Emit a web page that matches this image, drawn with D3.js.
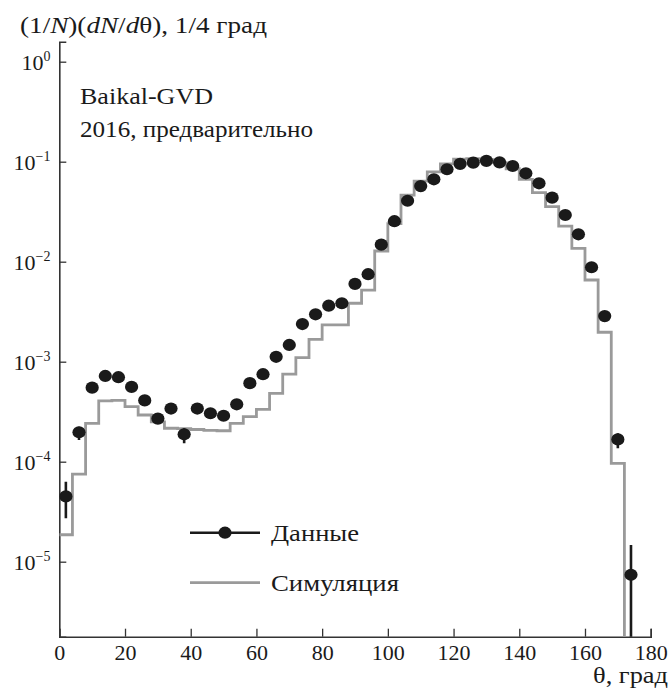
<!DOCTYPE html>
<html>
<head>
<meta charset="utf-8">
<script src="https://cdn.jsdelivr.net/npm/d3@7"></script>
<style>
  body { margin: 0; background: #fff; }
  text { font-family: "Liberation Serif", "Times New Roman", serif; fill: #1a1a1a; }
</style>
</head>
<body>
<svg id="chart" width="671" height="689"></svg>
<script>
// data points (bin centres, 4 deg bins)
var dataTheta = [2, 6, 10, 14, 18, 22, 26, 30, 34, 38, 42, 46, 50, 54, 58, 62, 66, 70, 74, 78, 82, 86,
                 90, 94, 98, 102, 106, 110, 114, 118, 122, 126, 130, 134, 138, 142, 146, 150, 154, 158,
                 162, 166, 170, 174];
var dataValue = [4.5e-5, 1.97e-4, 5.5e-4, 7.2e-4, 7.0e-4, 5.6e-4, 4.1e-4, 2.7e-4, 3.4e-4, 1.88e-4,
                 3.4e-4, 3.05e-4, 2.88e-4, 3.75e-4, 6.1e-4, 7.5e-4, 1.12e-3, 1.47e-3, 2.38e-3, 2.98e-3,
                 3.63e-3, 3.84e-3, 6.0e-3, 7.5e-3, 1.48e-2, 2.54e-2, 4.07e-2, 5.7e-2, 6.67e-2, 8.4e-2,
                 9.5e-2, 9.8e-2, 0.102, 0.0986, 0.0906, 0.0766, 0.0608, 0.0437, 0.0293, 0.0188,
                 8.8e-3, 2.86e-3, 1.67e-4, 7.4e-6];
// visible error bars only (others hidden by the markers)
var errTheta = [2, 6, 38, 170, 174];
var errHigh = [6.3e-5, 2.24e-4, 2.16e-4, 1.92e-4, 1.47e-5];
var errLow = [2.72e-5, 1.65e-4, 1.53e-4, 1.36e-4, 1e-7];

// simulation histogram, left bin edges
var simEdges = [0, 4, 8, 12, 16, 20, 24, 28, 32, 36, 40, 44, 48, 52, 56, 60, 64, 68, 72, 76, 80, 84,
                88, 92, 96, 100, 104, 108, 112, 116, 120, 124, 128, 132, 136, 140, 144, 148, 152, 156,
                160, 164, 168, 172];
var simValue = [1.86e-5, 7.5e-5, 2.42e-4, 4.05e-4, 4.1e-4, 3.55e-4, 2.93e-4, 2.5e-4, 2.16e-4, 2.14e-4,
                2.1e-4, 2.06e-4, 2.04e-4, 2.42e-4, 2.82e-4, 3.34e-4, 4.83e-4, 7.5e-4, 1.1e-3, 1.67e-3,
                2.33e-3, 2.33e-3, 3.84e-3, 5.2e-3, 1.28e-2, 2.4e-2, 4.64e-2, 6.4e-2, 7.9e-2, 9.5e-2,
                0.106, 0.107, 0.105, 0.098, 0.085, 0.0667, 0.049, 0.0355, 0.0227, 0.0136,
                6.56e-3, 1.97e-3, 9.6e-5, 1e-8];

var xTicks = [0, 20, 40, 60, 80, 100, 120, 140, 160, 180];
var yDecades = [0, -1, -2, -3, -4, -5];
var legendLabels = ["Данные", "Симуляция"];

var svg = d3.select("#chart");
var x = d3.scaleLinear().domain([0, 180]).range([59.3, 650.7]);
var y = d3.scaleLog().domain([Math.pow(10, -5.75), Math.pow(10, 0.2)]).range([636.7, 41.7]);

svg.append("defs").append("clipPath").attr("id", "plotclip")
  .append("rect").attr("x", 59.3).attr("y", 41.7).attr("width", 600).attr("height", 595);

// --- axes ---
var minorX = d3.range(0, 181, 5).filter(function(d){ return d % 20 != 0; });
var xg = svg.append("g").attr("transform", "translate(0,636.7)");
xg.call(d3.axisBottom(x).tickValues(minorX).tickSize(-5).tickFormat(""));
xg.call(d3.axisBottom(x).tickValues(xTicks).tickSize(-8).tickPadding(8).tickFormat(d3.format("d")));
xg.selectAll("text").attr("font-size", 22).attr("dy", "0.71em").style("font-family", "Liberation Serif");

var minorY = [];
for (var e = -6; e <= 0; e++) {
  for (var m = 2; m <= 9; m++) {
    var v = m * Math.pow(10, e);
    if (v > y.domain()[0] && v < y.domain()[1]) minorY.push(v);
  }
}
var yg = svg.append("g").attr("transform", "translate(59.3,0)");
yg.call(d3.axisLeft(y).tickValues(minorY).tickSize(-4).tickFormat(""));
yg.call(d3.axisLeft(y).tickValues(yDecades.map(function(d){ return Math.pow(10, d); }))
  .tickSize(-7).tickPadding(9).tickFormat(""));
svg.selectAll(".domain").attr("stroke", "#333").attr("stroke-width", 1.6);
svg.selectAll(".tick line").attr("stroke", "#333").attr("stroke-width", 1.3);

// 10^n labels with superscripts
yDecades.forEach(function(d){
  var t = svg.append("text").attr("x", 50.5).attr("y", y(Math.pow(10, d)) + 8)
    .attr("text-anchor", "end").attr("font-size", 22);
  t.append("tspan").text("10");
  t.append("tspan").attr("font-size", 14).attr("dy", -9).text(d == 0 ? "0" : "\u2212" + (-d));
});

// --- simulation histogram ---
var simPts = simEdges.map(function(d, i){ return [d, simValue[i]]; });
simPts.push([176, simValue[simValue.length - 1]]);
var stepLine = d3.line()
  .x(function(d){ return x(d[0]); })
  .y(function(d){ return y(d[1]); })
  .curve(d3.curveStepAfter);
svg.append("path").attr("clip-path", "url(#plotclip)")
  .attr("d", stepLine(simPts))
  .attr("fill", "none").attr("stroke", "#9a9a9a").attr("stroke-width", 2.8);

// --- data ---
var plot = svg.append("g").attr("clip-path", "url(#plotclip)");
plot.selectAll(".err").data(errTheta).enter().append("line")
  .attr("x1", function(d){ return x(d); }).attr("x2", function(d){ return x(d); })
  .attr("y1", function(d, i){ return y(errHigh[i]); })
  .attr("y2", function(d, i){ return y(errLow[i]); })
  .attr("stroke", "#1a1a1a").attr("stroke-width", 2.6);
plot.selectAll(".dot").data(dataTheta).enter().append("ellipse")
  .attr("cx", function(d){ return x(d); })
  .attr("cy", function(d, i){ return y(dataValue[i]); })
  .attr("rx", 6.6).attr("ry", 6.1)
  .attr("fill", "#1a1a1a");

// --- legend ---
var lg = svg.append("g");
lg.append("line").attr("x1", 190).attr("x2", 260).attr("y1", 532.7).attr("y2", 532.7)
  .attr("stroke", "#1a1a1a").attr("stroke-width", 2.6);
lg.append("ellipse").attr("cx", 225).attr("cy", 532.7).attr("rx", 6.6).attr("ry", 6.1).attr("fill", "#1a1a1a");
lg.append("line").attr("x1", 190).attr("x2", 260).attr("y1", 582.7).attr("y2", 582.7)
  .attr("stroke", "#9a9a9a").attr("stroke-width", 2.8);
var legendWidths = [88, 128];
lg.selectAll(".lt").data(legendLabels).enter().append("text")
  .attr("x", 271).attr("y", function(d, i){ return 540.5 + i * 50; })
  .attr("font-size", 24)
  .attr("textLength", function(d, i){ return legendWidths[i]; })
  .attr("lengthAdjust", "spacingAndGlyphs")
  .text(function(d){ return d; });

// --- titles ---
var title = svg.append("text").attr("x", 20).attr("y", 33).attr("font-size", 24)
  .attr("textLength", 247).attr("lengthAdjust", "spacingAndGlyphs");
title.append("tspan").text("(1/");
title.append("tspan").attr("font-style", "italic").text("N");
title.append("tspan").text(")(");
title.append("tspan").attr("font-style", "italic").text("dN");
title.append("tspan").text("/");
title.append("tspan").attr("font-style", "italic").text("d");
title.append("tspan").text("\u03b8), 1/4 град");

svg.append("text").attr("x", 80).attr("y", 104).attr("font-size", 24)
  .attr("textLength", 133).attr("lengthAdjust", "spacingAndGlyphs").text("Baikal-GVD");
svg.append("text").attr("x", 80).attr("y", 137).attr("font-size", 24)
  .attr("textLength", 233).attr("lengthAdjust", "spacingAndGlyphs").text("2016, предварительно");
svg.append("text").attr("x", 668).attr("y", 683).attr("text-anchor", "end").attr("font-size", 23)
  .attr("textLength", 75).attr("lengthAdjust", "spacingAndGlyphs").text("\u03b8, град");
</script>
</body>
</html>
